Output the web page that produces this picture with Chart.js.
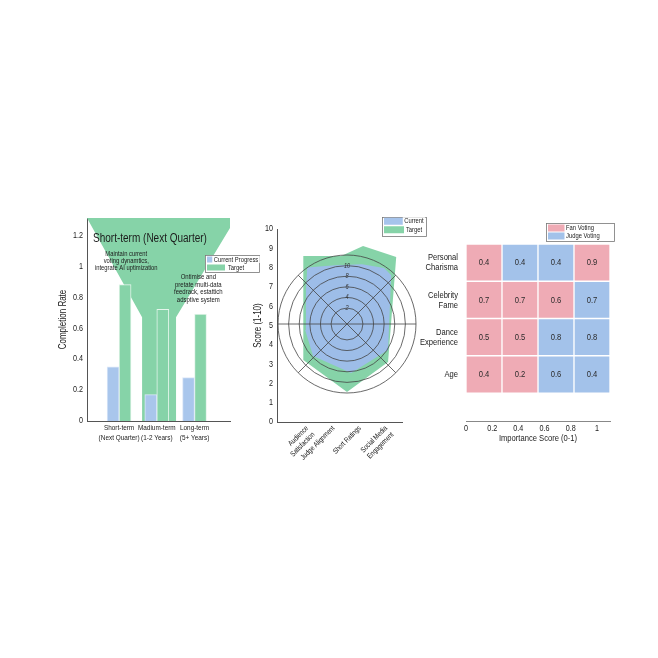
<!DOCTYPE html>
<html>
<head>
<meta charset="utf-8">
<script src="https://cdn.jsdelivr.net/npm/chart.js@4.4.1/dist/chart.umd.min.js"></script>
<style>
html, body { margin: 0; padding: 0; background: #fff; }
#wrap { position: relative; width: 658px; height: 658px; overflow: hidden; background: #fff; }
canvas { position: absolute; }
</style>
</head>
<body>
<div id="wrap">
  <canvas id="barChart" width="250" height="260" style="left:20px;top:200px"></canvas>
  <canvas id="scoreChart" width="200" height="260" style="left:230px;top:200px"></canvas>
  <canvas id="ringChart" width="150" height="150" style="left:272px;top:249px"></canvas>
  <canvas id="heatChart" width="250" height="260" style="left:400px;top:200px"></canvas>
</div>
<script>
// ---- left panel: progress per phase
const phases = [['Short-term', '(Next Quarter)'], ['Madium-term', '(1-2 Years)'], ['Long-term', '(5+ Years)']];
const currentProgress = [0.35, 0.17, 0.28];
const targetProgress = [0.88, 0.72, 0.69];
const rateTicks = [0, 0.2, 0.4, 0.6, 0.8, 1, 1.2];
// funnel outline, in (phase, rate) units
const funnelX = [-0.85, 0.61, 0.61, 1.51, 1.51, 3.1];
const funnelY = [1.31, 0.67, 0, 0, 0.67, 1.31];
const phaseTitle = 'Short-term (Next Quarter)';
const noteShort = ['Maintain current', 'voting dynamtics,', 'integrate AI uptimization'];
const noteLong = ['Ontimise and', 'pretate multi-data', 'feedrack, estattich', 'adsptive system'];

// ---- middle panel: scores
const criteria = [['Audience', 'Satisfaction'], 'Judge Alignment', 'Short Ratings', ['Social Media', 'Engagement']];
const scoreTicks = [0, 1, 2, 3, 4, 5, 6, 7, 8, 9, 10];
const targetShapeX = [0.85, 2.29, 3.12, 4.38, 4.07, 2.51, 0.85];
const targetShapeY = [8.60, 8.60, 9.12, 8.55, 3.11, 1.55, 3.21];
const currentShapeX = [1.0, 2.06, 3.08, 3.92, 4.19, 4.07, 2.67, 1.22, 0.92, 0.95];
const currentShapeY = [8.0, 8.12, 8.18, 7.98, 7.6, 3.73, 2.54, 3.42, 4.77, 6.84];
const ringTicks = [2, 4, 6, 8, 10, 12];

// ---- right panel: importance heatmap
const heatRows = [['Personal', 'Charisma'], ['Celebrity', 'Fame'], ['Dance', 'Experience'], 'Age'];
const heatValues = [
    [0.4, 0.4, 0.4, 0.9],
    [0.7, 0.7, 0.6, 0.7],
    [0.5, 0.5, 0.8, 0.8],
    [0.4, 0.2, 0.6, 0.4]
];
// F = fan voting leads, J = judge voting leads
const heatLead = [
    ['F', 'J', 'J', 'F'],
    ['F', 'F', 'F', 'J'],
    ['F', 'F', 'J', 'J'],
    ['F', 'F', 'J', 'J']
];
const importanceTicks = [0, 0.2, 0.4, 0.6, 0.8, 1];

const FONT = "'Liberation Sans', Arial, sans-serif";
const TEXT = '#1b1b1b';
const GREEN = '#86d3a8';
const BLUE = '#a9c6ec';
const PINK = '#efabb5';
const HEAT_BLUE = '#a3c2ea';
const AXIS = '#555';

// no narrow face installed: squeeze the text horizontally instead
const SQUEEZE = 0.8;
const baseFillText = CanvasRenderingContext2D.prototype.fillText;
const baseMeasure = CanvasRenderingContext2D.prototype.measureText;
CanvasRenderingContext2D.prototype.fillText = function (text, x, y, maxWidth) {
    this.save();
    this.translate(x, y);
    this.scale(SQUEEZE, 1);
    if (maxWidth === undefined) {
        baseFillText.call(this, text, 0, 0);
    } else {
        baseFillText.call(this, text, 0, 0, maxWidth / SQUEEZE);
    }
    this.restore();
};
CanvasRenderingContext2D.prototype.measureText = function (text) {
    const m = baseMeasure.call(this, text);
    return {
        width: m.width * SQUEEZE,
        actualBoundingBoxLeft: m.actualBoundingBoxLeft * SQUEEZE,
        actualBoundingBoxRight: m.actualBoundingBoxRight * SQUEEZE,
        actualBoundingBoxAscent: m.actualBoundingBoxAscent,
        actualBoundingBoxDescent: m.actualBoundingBoxDescent
    };
};

Chart.defaults.font.family = FONT;
Chart.defaults.color = TEXT;
Chart.defaults.animation = false;

const fmt = (v) => String(+Number(v).toFixed(1));

// boxed legend drawn at a fixed spot of the canvas
const boxLegend = {
    id: 'boxLegend',
    afterDraw(chart, args, o) {
        const ctx = chart.ctx;
        const items = chart.data.datasets.filter(d => !d.noLegend);
        ctx.save();
        ctx.fillStyle = '#fff';
        ctx.fillRect(o.x, o.y, o.w, o.h);
        ctx.strokeStyle = '#777';
        ctx.lineWidth = 0.8;
        ctx.strokeRect(o.x + 0.5, o.y + 0.5, o.w, o.h);
        ctx.font = o.size + 'px ' + FONT;
        ctx.textBaseline = 'middle';
        items.forEach((d, i) => {
            const cy = o.y + o.pad + o.row * (i + 0.5);
            ctx.fillStyle = d.legendColor || d.backgroundColor;
            ctx.fillRect(o.x + 2, cy - o.swatchH / 2, o.swatchW, o.swatchH);
            const tw = ctx.measureText(d.label).width;
            const tx = o.align === 'center' ? o.x + o.textX - tw / 2 : o.x + o.textX;
            ctx.fillStyle = '#fff';
            ctx.fillRect(tx - 1.5, cy - o.swatchH / 2 - 0.5, tw + 3, o.swatchH + 1);
            ctx.fillStyle = TEXT;
            ctx.fillText(d.label, tx, cy);
        });
        ctx.restore();
    }
};

// text notes placed in data units
const notes = {
    id: 'notes',
    afterDatasetsDraw(chart, args, o) {
        const ctx = chart.ctx;
        const {x, y} = chart.scales;
        ctx.save();
        ctx.fillStyle = TEXT;
        ctx.textBaseline = 'middle';
        o.items.forEach(it => {
            ctx.font = it.size + 'px ' + FONT;
            ctx.textAlign = it.align;
            const px = x.getPixelForValue(it.x);
            let py = y.getPixelForValue(it.y);
            it.lines.forEach(line => {
                ctx.fillText(line, px, py);
                py += it.lineHeight;
            });
        });
        ctx.restore();
    }
};

// values written in heatmap cells
const cellText = {
    id: 'cellText',
    afterDatasetsDraw(chart) {
        const ctx = chart.ctx;
        ctx.save();
        ctx.font = '9.5px ' + FONT;
        ctx.fillStyle = '#2a2a2a';
        ctx.textAlign = 'center';
        ctx.textBaseline = 'middle';
        chart.data.datasets.forEach((ds, di) => {
            chart.getDatasetMeta(di).data.forEach((el, i) => {
                const c = el.getCenterPoint();
                ctx.fillText(fmt(ds.data[i].v), c.x, c.y);
            });
        });
        ctx.restore();
    }
};

const initBarChart = () => {
    const ctx = document.getElementById('barChart').getContext('2d');
    new Chart(ctx, {
        type: 'bar',
        data: {
            datasets: [
                {
                    label: 'Current Progress',
                    data: currentProgress.map((v, i) => ({x: i, y: v})),
                    backgroundColor: BLUE,
                    borderColor: '#dbe7f8',
                    borderWidth: 1,
                    barThickness: 12,
                    order: 1
                },
                {
                    label: 'Target',
                    data: targetProgress.map((v, i) => ({x: i, y: v})),
                    backgroundColor: GREEN,
                    borderColor: '#e4f5eb',
                    borderWidth: 1,
                    barThickness: 12,
                    order: 1
                },
                {
                    type: 'line',
                    label: 'funnel',
                    noLegend: true,
                    data: funnelX.map((v, i) => ({x: v, y: funnelY[i]})),
                    backgroundColor: GREEN,
                    borderWidth: 0,
                    pointRadius: 0,
                    tension: 0,
                    fill: 'shape',
                    order: 5
                }
            ]
        },
        options: {
            responsive: false,
            layout: {padding: {left: 35, top: 18, right: 40, bottom: 0}},
            scales: {
                x: {
                    type: 'linear',
                    offset: false,
                    min: -0.85,
                    max: 2.94,
                    afterBuildTicks: (s) => { s.ticks = phases.map((p, i) => ({value: i})); },
                    afterFit: (s) => { s.height = 39; },
                    ticks: {
                        callback: (v) => phases[v],
                        font: {size: 8},
                        padding: 2,
                        maxRotation: 0,
                        autoSkip: false
                    },
                    grid: {display: false, drawTicks: false},
                    border: {color: AXIS}
                },
                y: {
                    min: 0,
                    max: 1.31,
                    afterBuildTicks: (s) => { s.ticks = rateTicks.map(v => ({value: v})); },
                    afterFit: (s) => { s.width = 32; },
                    ticks: {callback: fmt, font: {size: 9}, padding: 4},
                    grid: {display: false, drawTicks: false},
                    border: {color: AXIS},
                    title: {display: true, text: 'Completion Rate', font: {size: 10}, padding: 2}
                }
            },
            plugins: {
                legend: {display: false},
                tooltip: {enabled: false},
                boxLegend: {x: 185, y: 55, w: 54, h: 17, pad: 0.5, row: 8, swatchW: 18, swatchH: 6, textX: 31, align: 'center', size: 7.3},
                notes: {
                    items: [
                        {lines: [phaseTitle], x: -0.69, y: 1.18, align: 'left', size: 12.5, lineHeight: 0},
                        {lines: noteShort, x: 0.19, y: 1.077, align: 'center', size: 7.3, lineHeight: 6.8},
                        {lines: noteLong, x: 2.1, y: 0.93, align: 'center', size: 7.5, lineHeight: 7.7}
                    ]
                }
            }
        },
        plugins: [boxLegend, notes]
    });
};

const initScoreChart = () => {
    const ctx = document.getElementById('scoreChart').getContext('2d');
    const shape = (xs, ys) => xs.map((v, i) => ({x: v, y: ys[i]}));
    new Chart(ctx, {
        type: 'scatter',
        data: {
            datasets: [
                {
                    label: 'Current',
                    data: shape(currentShapeX, currentShapeY),
                    backgroundColor: '#9dbde8',
                    legendColor: '#a6c4ec',
                    showLine: true,
                    fill: 'shape',
                    borderWidth: 0,
                    pointRadius: 0,
                    tension: 0
                },
                {
                    label: 'Target',
                    data: shape(targetShapeX, targetShapeY),
                    backgroundColor: GREEN,
                    showLine: true,
                    fill: 'shape',
                    borderWidth: 0,
                    pointRadius: 0,
                    tension: 0
                }
            ]
        },
        options: {
            responsive: false,
            layout: {padding: {left: 20, top: 29, right: 28, bottom: 0}},
            scales: {
                x: {
                    type: 'linear',
                    offset: false,
                    min: -0.15,
                    max: 4.6,
                    afterBuildTicks: (s) => { s.ticks = criteria.map((c, i) => ({value: i + 1})); },
                    afterFit: (s) => { s.height = 38; },
                    ticks: {
                        callback: (v) => criteria[v - 1],
                        font: {size: 7.5},
                        padding: 2,
                        minRotation: 45,
                        maxRotation: 45,
                        autoSkip: false
                    },
                    grid: {display: false, drawTicks: false},
                    border: {color: AXIS}
                },
                y: {
                    min: 0,
                    max: 10,
                    afterBuildTicks: (s) => { s.ticks = scoreTicks.map(v => ({value: v})); },
                    afterFit: (s) => { s.width = 27; },
                    ticks: {font: {size: 9}, padding: 4},
                    grid: {display: false, drawTicks: false},
                    border: {color: AXIS},
                    title: {display: true, text: 'Score (1-10)', font: {size: 10}, padding: 2}
                }
            },
            plugins: {
                legend: {display: false},
                tooltip: {enabled: false},
                boxLegend: {x: 152, y: 17, w: 44, h: 19, pad: 0, row: 8.5, swatchW: 20, swatchH: 7, textX: 32, align: 'center', size: 7.3}
            }
        },
        plugins: [boxLegend]
    });

    // polar rings drawn over the shapes
    const ringCtx = document.getElementById('ringChart').getContext('2d');
    new Chart(ringCtx, {
        type: 'radar',
        data: {labels: ['', '', '', '', '', '', '', ''], datasets: []},
        options: {
            responsive: false,
            layout: {padding: 2.5},
            scales: {
                r: {
                    min: -1,
                    max: 12,
                    afterBuildTicks: (s) => { s.ticks = ringTicks.map(v => ({value: v})); },
                    ticks: {
                        callback: (v) => (v === 12 ? '' : v),
                        showLabelBackdrop: false,
                        backdropPadding: 0,
                        font: {size: 7, style: 'italic'},
                        color: '#333'
                    },
                    grid: {color: '#444', lineWidth: 0.8, circular: true},
                    angleLines: {
                        color: (c) => (c.index % 4 === 0 ? 'rgba(0,0,0,0)' : '#444'),
                        lineWidth: 0.8
                    },
                    pointLabels: {display: false}
                }
            },
            plugins: {legend: {display: false}, tooltip: {enabled: false}}
        }
    });
};

const initHeatChart = () => {
    const ctx = document.getElementById('heatChart').getContext('2d');
    const cellSpan = 1.1 / heatValues[0].length;
    const cells = (tag) => {
        const out = [];
        heatValues.forEach((row, r) => row.forEach((v, c) => {
            if (heatLead[r][c] === tag) {
                out.push({x: [c * cellSpan, (c + 1) * cellSpan], y: heatRows.length - 1 - r, v: v});
            }
        }));
        return out;
    };
    new Chart(ctx, {
        type: 'bar',
        data: {
            datasets: [
                {label: 'Fan Voting', data: cells('F'), backgroundColor: PINK},
                {label: 'Judge Voting', data: cells('J'), backgroundColor: HEAT_BLUE}
            ].map(d => Object.assign(d, {
                grouped: false,
                barPercentage: 1,
                categoryPercentage: 1,
                borderColor: '#fff',
                borderWidth: 1,
                borderSkipped: false
            }))
        },
        options: {
            responsive: false,
            indexAxis: 'y',
            layout: {padding: {left: 10, top: 44, right: 40, bottom: 16}},
            scales: {
                x: {
                    type: 'linear',
                    min: 0,
                    max: 1.1,
                    afterBuildTicks: (s) => { s.ticks = importanceTicks.map(v => ({value: v})); },
                    afterFit: (s) => { s.height = 23; },
                    ticks: {callback: fmt, font: {size: 9}, padding: 2, maxRotation: 0},
                    grid: {display: false, drawTicks: false},
                    border: {color: '#888'},
                    title: {display: true, text: 'Importance Score (0-1)', font: {size: 9.5}, padding: 0}
                },
                y: {
                    type: 'linear',
                    offset: false,
                    min: -1.25,
                    max: 3.5,
                    afterBuildTicks: (s) => { s.ticks = heatRows.map((r, i) => ({value: i})); },
                    afterFit: (s) => { s.width = 56; },
                    ticks: {
                        callback: (v) => heatRows[heatRows.length - 1 - v],
                        font: {size: 9.5, lineHeight: 1.05},
                        padding: 8
                    },
                    grid: {display: false, drawTicks: false},
                    border: {display: false}
                }
            },
            plugins: {
                legend: {display: false},
                tooltip: {enabled: false},
                boxLegend: {x: 146, y: 23, w: 68, h: 18, pad: 1, row: 8, swatchW: 18, swatchH: 7, textX: 20, align: 'left', size: 7.3}
            }
        },
        plugins: [boxLegend, cellText]
    });
};

initBarChart();
initScoreChart();
initHeatChart();
</script>
</body>
</html>
